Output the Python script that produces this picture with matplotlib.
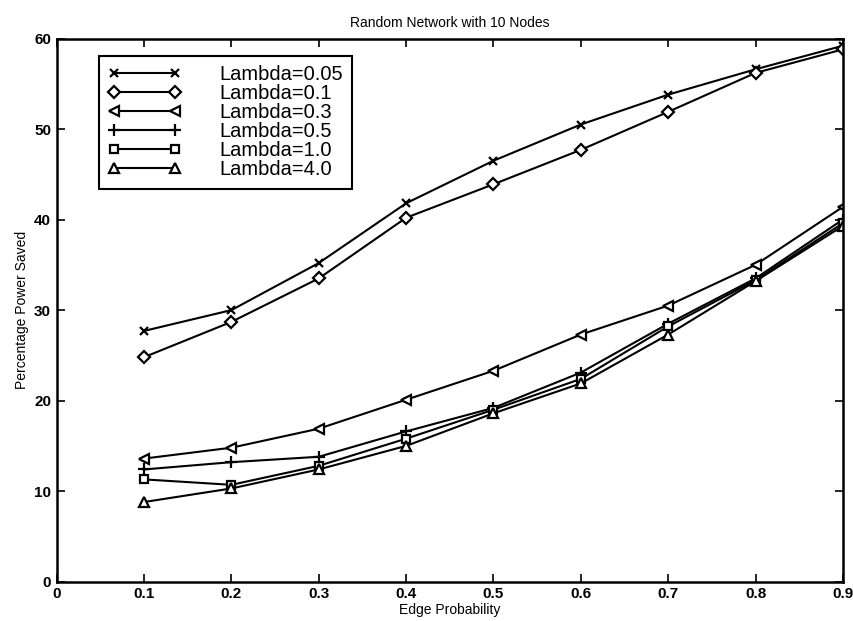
import numpy as np
import matplotlib
matplotlib.use("Agg")
import matplotlib.pyplot as plt

plt.rcParams['font.family'] = ['Liberation Sans', 'DejaVu Sans']

edge_prob = [0.1, 0.2, 0.3, 0.4, 0.5, 0.6, 0.7, 0.8, 0.9]
labels = ["Lambda=0.05", "Lambda=0.1", "Lambda=0.3", "Lambda=0.5", "Lambda=1.0", "Lambda=4.0"]
lam_005 = [27.7, 30.0, 35.2, 41.8, 46.5, 50.5, 53.8, 56.6, 59.2]
lam_01 = [24.8, 28.7, 33.5, 40.2, 43.9, 47.7, 51.9, 56.2, 58.8]
lam_03 = [13.6, 14.8, 16.9, 20.1, 23.3, 27.3, 30.5, 35.0, 41.4]
lam_05 = [12.4, 13.2, 13.8, 16.6, 19.2, 23.1, 28.5, 33.5, 40.0]
lam_10 = [11.3, 10.7, 12.8, 15.8, 19.0, 22.4, 28.2, 33.3, 39.6]
lam_40 = [8.8, 10.3, 12.4, 15.0, 18.6, 21.9, 27.3, 33.2, 39.3]

series = [lam_005, lam_01, lam_03, lam_05, lam_10, lam_40]
markers = ['x', 'D', '<', '+', 's', '^']
msizes = [6, 6, 7, 9, 6, 7]

fig = plt.figure(figsize=(8.54, 6.21), dpi=100)
ax = fig.add_axes([0.0664, 0.0633, 0.9206, 0.8747])

for ys, lab, m, ms in zip(series, labels, markers, msizes):
    ax.plot(edge_prob, ys, color='black', lw=1.5, marker=m, ms=ms,
            mfc='white', mec='black', mew=1.6, label=lab)

ax.set_xlim(0, 0.9)
ax.set_ylim(0, 60)
ax.set_xticks(np.arange(0, 0.91, 0.1))
ax.set_xticklabels(["0", "0.1", "0.2", "0.3", "0.4", "0.5", "0.6", "0.7", "0.8", "0.9"])
ax.set_yticks(range(0, 61, 10))
ax.tick_params(direction='in', top=True, right=True, length=6, width=1.2,
               labelsize=11, pad=4)
for t in ax.get_xticklabels() + ax.get_yticklabels():
    t.set_fontweight('bold')
for sp in ax.spines.values():
    sp.set_linewidth(1.8)

ax.set_title("Random Network with 10 Nodes", fontsize=10, pad=8)
ax.set_xlabel("Edge Probability", fontsize=10, labelpad=1)
ax.set_ylabel("Percentage Power Saved", fontsize=10, labelpad=4)

leg = ax.legend(loc='upper left', bbox_to_anchor=(0.054, 0.967),
                prop={'size': 14.5},
                numpoints=2, handlelength=3.6, handletextpad=1.9,
                labelspacing=0.0, borderpad=0.45, borderaxespad=0,
                fancybox=False, frameon=True, framealpha=1)
leg.get_frame().set_edgecolor('black')
leg.get_frame().set_linewidth(1.5)

fig.savefig("out.png", dpi=100)
